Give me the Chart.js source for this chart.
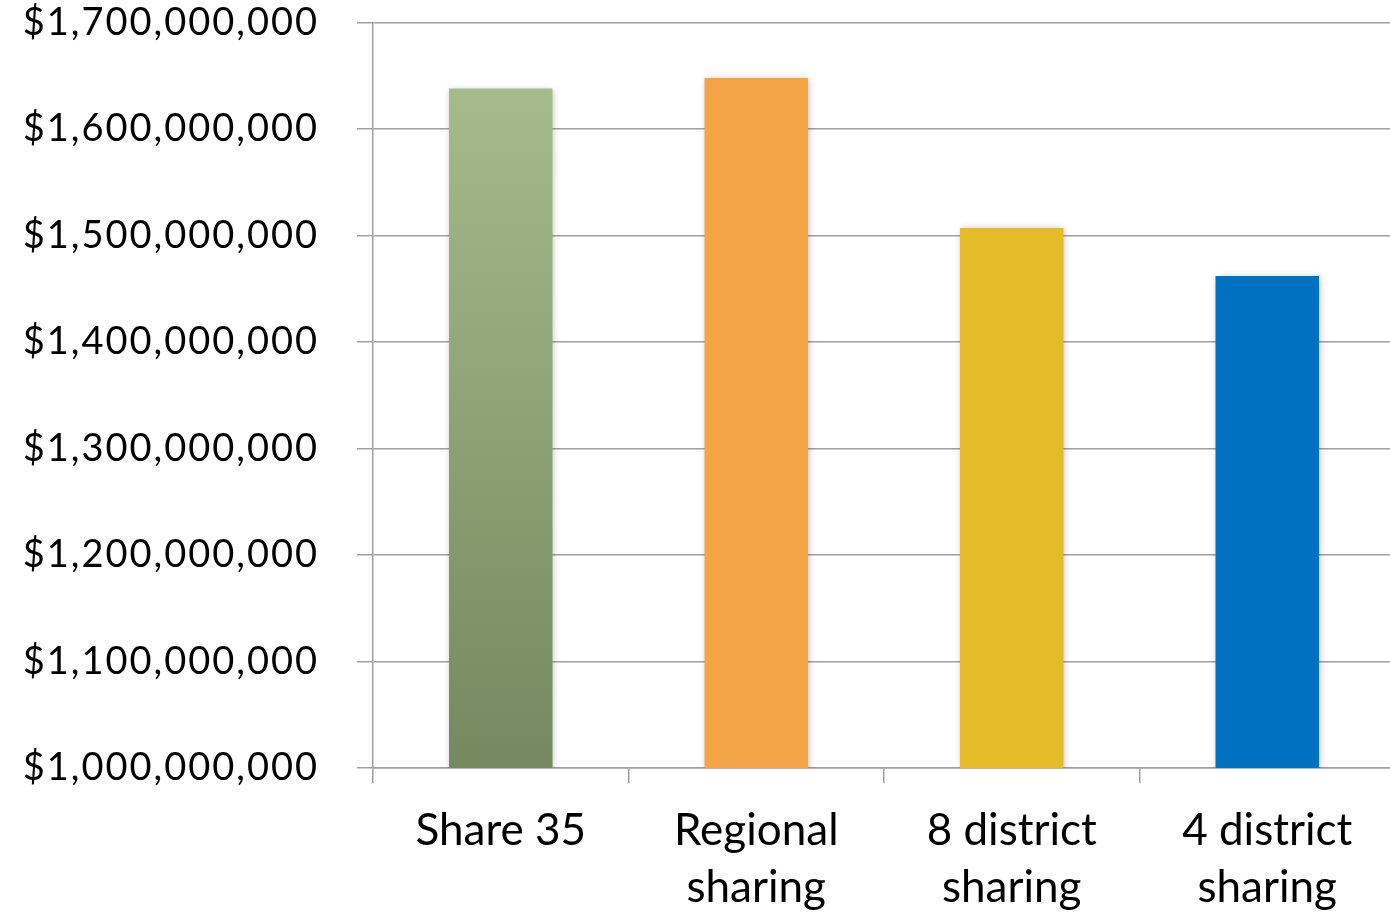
<!DOCTYPE html>
<html>
<head>
<meta charset="utf-8">
<script src="https://cdn.jsdelivr.net/npm/chart.js@4/dist/chart.umd.min.js"></script>
<style>
  html, body { margin: 0; padding: 0; background: #ffffff; overflow: hidden; }
  #wrap { position: relative; width: 1390px; height: 914px; overflow: hidden; }
  #c { display: block; }
</style>
</head>
<body>
<div id="wrap"><canvas id="c" width="1395" height="914"></canvas></div>
<script>
// Total cost under each sharing scenario
const categories = ['Share 35', ['Regional', 'sharing'], ['8 district', 'sharing'], ['4 district', 'sharing']];
const totals = [1638000000, 1648000000, 1507000000, 1462000000];
const axisMin = 1000000000;
const axisMax = 1700000000;
const axisStep = 100000000;

const fontFamily = 'Lato, "Open Sans", sans-serif';

// Soft drop shadow behind the bars
const barShadow = {
  id: 'barShadow',
  beforeDatasetsDraw(chart) {
    const ctx = chart.ctx;
    ctx.save();
    ctx.shadowColor = 'rgba(0,0,0,0.28)';
    ctx.shadowBlur = 7;
    ctx.shadowOffsetX = 1;
    ctx.shadowOffsetY = 1;
  },
  afterDatasetsDraw(chart) {
    chart.ctx.restore();
  }
};

// Slightly wider letter spacing for the value axis labels
const spacedValueLabels = {
  id: 'spacedValueLabels',
  beforeDraw(chart) {
    const s = chart.scales.y;
    if (s && !s._spaced) {
      const orig = s.drawLabels.bind(s);
      s.drawLabels = function (area) {
        const ctx = this.ctx;
        const prev = ctx.letterSpacing;
        ctx.letterSpacing = '2px';
        orig(area);
        ctx.letterSpacing = prev || '0px';
      };
      s._spaced = true;
    }
  }
};

function barColor(context) {
  const i = context.dataIndex;
  if (i === 0) {
    const chart = context.chart;
    const area = chart.chartArea;
    if (!area) return '#8da177';
    const yTop = chart.scales.y.getPixelForValue(totals[0]);
    const g = chart.ctx.createLinearGradient(0, yTop, 0, area.bottom);
    g.addColorStop(0, '#a5bb8b');
    g.addColorStop(1, '#75885f');
    return g;
  }
  return ['#8da177', '#f2a446', '#e4bc2a', '#0070c0'][i];
}

new Chart(document.getElementById('c'), {
  type: 'bar',
  data: {
    labels: categories,
    datasets: [{
      data: totals,
      backgroundColor: barColor,
      borderWidth: 0,
      categoryPercentage: 1.0,
      barPercentage: 0.405
    }]
  },
  options: {
    responsive: false,
    animation: false,
    devicePixelRatio: 1,
    layout: { padding: { top: 22.5, right: 0, left: 0, bottom: 0 } },
    plugins: {
      legend: { display: false },
      tooltip: { enabled: false }
    },
    scales: {
      x: {
        offset: true,
        grid: {
          display: true,
          offset: true,
          drawOnChartArea: false,
          drawTicks: true,
          tickLength: 15,
          color: '#a0a0a0',
          lineWidth: 1.5
        },
        border: { display: true, color: '#a0a0a0', width: 1.5 },
        ticks: {
          color: '#000000',
          padding: 19,
          maxRotation: 0,
          autoSkip: false,
          font: { family: fontFamily, size: 44, lineHeight: 1.3 }
        },
        afterFit(scale) {
          scale.height = 146;
          scale.paddingLeft = 0;
          scale.paddingRight = 0;
        }
      },
      y: {
        min: axisMin,
        max: axisMax,
        grid: {
          color: '#a0a0a0',
          lineWidth: 1.5,
          drawTicks: true,
          tickLength: 16
        },
        border: { display: true, color: '#a0a0a0', width: 1.5 },
        ticks: {
          stepSize: axisStep,
          color: '#000000',
          padding: 38,
          font: { family: fontFamily, size: 38 },
          callback: (v) => '$' + Number(v).toLocaleString('en-US')
        },
        afterFit(scale) {
          scale.width = 373;
          scale.paddingTop = 0;
          scale.paddingBottom = 0;
        }
      }
    }
  },
  plugins: [barShadow, spacedValueLabels]
});
</script>
</body>
</html>
